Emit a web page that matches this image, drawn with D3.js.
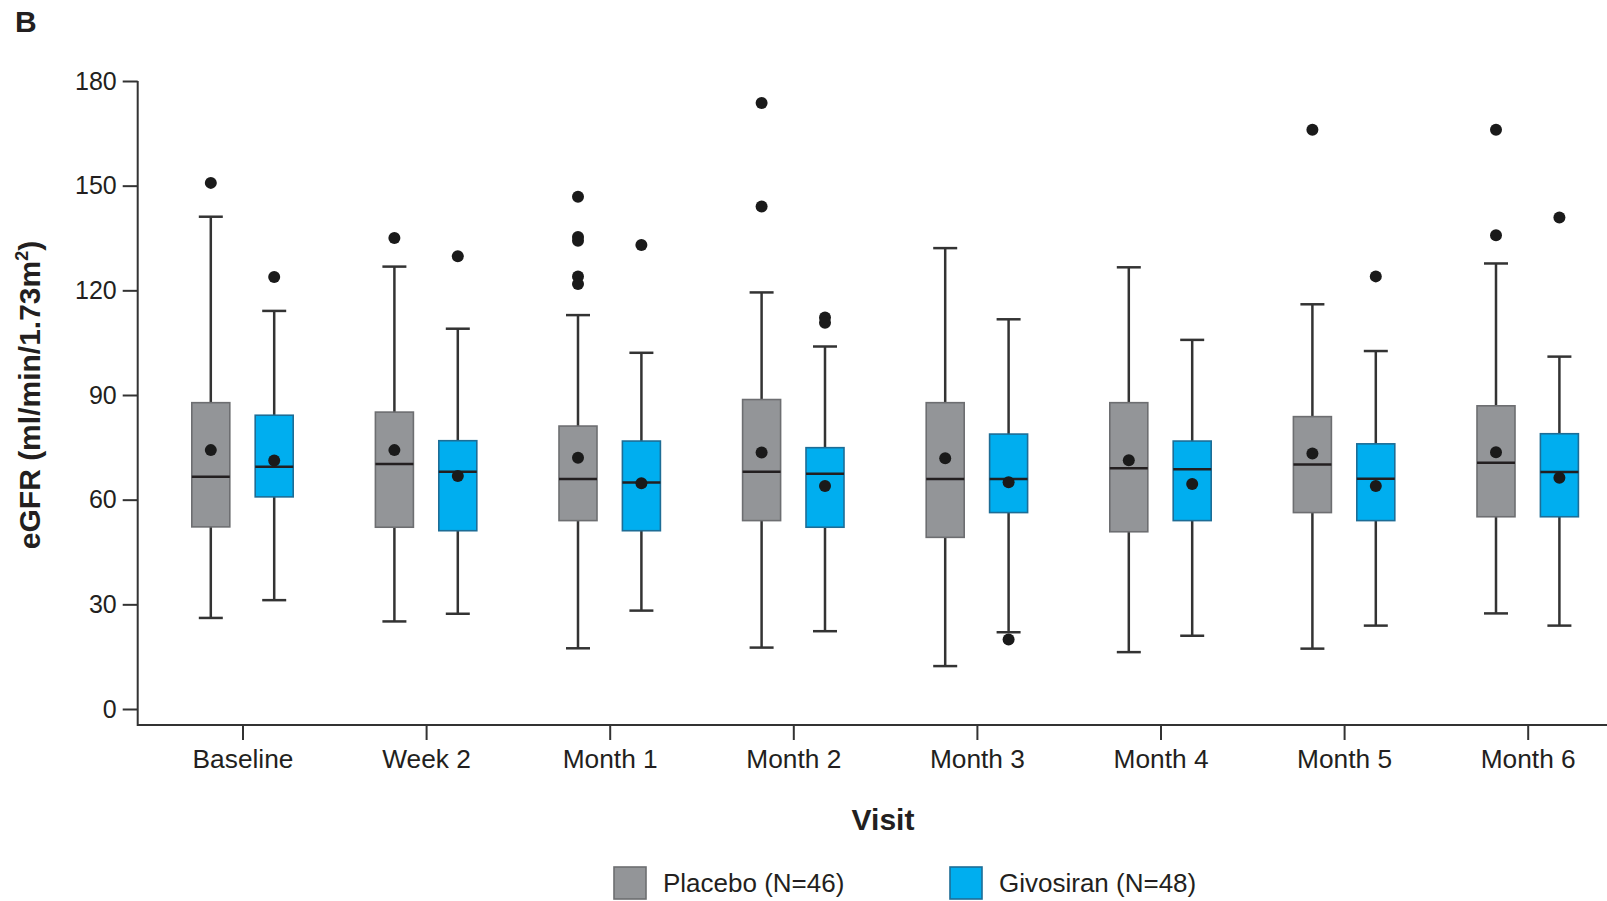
<!DOCTYPE html>
<html>
<head>
<meta charset="utf-8">
<script src="https://cdn.jsdelivr.net/npm/d3@7"></script>
<style>
    body { margin: 0; background: #ffffff; }
    text { font-family: "Liberation Sans", Arial, sans-serif; fill: #231f20; }
</style>
</head>
<body>
<div id="chart"></div>
<script>
"use strict";

// 数据
var categories = ["Baseline", "Week 2", "Month 1", "Month 2", "Month 3", "Month 4", "Month 5", "Month 6"];
var yTicks = [0, 30, 60, 90, 120, 150, 180];
var seriesNames = ["Placebo (N=46)", "Givosiran (N=48)"];

var placeboLow = [26.1, 25.1, 17.4, 17.6, 12.3, 16.3, 17.3, 27.4];
var placeboQ1 = [52.2, 52.1, 54.0, 54.0, 49.2, 50.8, 56.3, 55.1];
var placeboMedian = [66.6, 70.2, 65.9, 68.0, 65.9, 69.0, 70.1, 70.6];
var placeboQ3 = [87.8, 85.1, 81.1, 88.7, 87.8, 87.8, 83.8, 86.9];
var placeboHigh = [141.1, 126.8, 112.9, 119.4, 132.1, 126.6, 116.0, 127.7];
var placeboMean = [74.2, 74.2, 72.0, 73.5, 71.9, 71.3, 73.2, 73.6];
var placeboOutliers = [[150.8], [135.0], [146.8, 135.3, 134.2, 124.0, 121.8], [173.7, 144.0], [], [], [166.0], [166.0, 135.8]];

var givLow = [31.2, 27.3, 28.2, 22.3, 22.0, 21.0, 23.9, 23.9];
var givQ1 = [60.8, 51.1, 51.1, 52.1, 56.3, 54.0, 54.0, 55.1];
var givMedian = [69.4, 68.0, 64.9, 67.4, 65.9, 68.7, 66.0, 67.9];
var givQ3 = [84.2, 76.9, 76.8, 74.9, 78.8, 76.8, 76.0, 78.9];
var givHigh = [114.1, 109.0, 102.1, 103.9, 111.7, 105.8, 102.6, 101.0];
var givMean = [71.2, 66.8, 64.7, 63.9, 65.0, 64.5, 63.9, 66.3];
var givOutliers = [[123.8], [129.8], [133.0], [112.2, 110.7], [19.9], [], [124.0], [140.9]];

var width = 1607, height = 901;
var axisLeftX = 137.7, axisBottomY = 725;
var boxWidth = 38, capWidth = 24, offset = 31.7;

var colors = {
    placebo: { fill: "#939598", stroke: "#6d6e71" },
    giv: { fill: "#00aeef", stroke: "#1d6d96" }
};

// 组装箱线数据
function buildSeries(key, low, q1, med, q3, high, mean, outliers, dx) {
    return categories.map(function (c, i) {
        return {
            key: key, cat: c, dx: dx,
            low: low[i], q1: q1[i], median: med[i], q3: q3[i], high: high[i],
            mean: mean[i], outliers: outliers[i]
        };
    });
}
var boxes = buildSeries("placebo", placeboLow, placeboQ1, placeboMedian, placeboQ3, placeboHigh, placeboMean, placeboOutliers, -offset)
    .concat(buildSeries("giv", givLow, givQ1, givMedian, givQ3, givHigh, givMean, givOutliers, offset));

var svg = d3.select("#chart").append("svg")
    .attr("width", width)
    .attr("height", height);

// 比例尺
var x = d3.scalePoint().domain(categories).range([242.5, 1527.7]);
var y = d3.scaleLinear().domain([0, 180]).range([709, 81]);

// 坐标轴
var gy = svg.append("g")
    .attr("transform", "translate(" + axisLeftX + ",0)")
    .call(d3.axisLeft(y).tickValues(yTicks).tickSize(15).tickPadding(6));
gy.select(".domain").remove();
gy.selectAll("text").attr("font-size", 25).attr("fill", "#231f20")
    .attr("font-family", "'Liberation Sans', Arial, sans-serif");

var gx = svg.append("g")
    .attr("transform", "translate(0," + axisBottomY + ")")
    .call(d3.axisBottom(x).tickSize(15).tickPadding(9));
gx.select(".domain").remove();
gx.selectAll("text").attr("font-size", 26.3).attr("fill", "#231f20")
    .attr("font-family", "'Liberation Sans', Arial, sans-serif");

svg.selectAll(".tick line").attr("stroke", "#333").attr("stroke-width", 2);

svg.append("path")
    .attr("d", "M" + axisLeftX + "," + y(180) + "V" + axisBottomY + "H" + width)
    .attr("fill", "none")
    .attr("stroke", "#333")
    .attr("stroke-width", 2);

// 箱线图
var g = svg.selectAll(".box")
    .data(boxes)
    .enter()
    .append("g")
    .attr("class", "box")
    .attr("transform", function (d) { return "translate(" + (x(d.cat) + d.dx) + ",0)"; });

g.append("line")
    .attr("x1", 0).attr("x2", 0)
    .attr("y1", function (d) { return y(d.high); })
    .attr("y2", function (d) { return y(d.low); })
    .attr("stroke", "#333").attr("stroke-width", 2.5);

g.selectAll(".cap")
    .data(function (d) { return [d.low, d.high]; })
    .enter()
    .append("line")
    .attr("class", "cap")
    .attr("x1", -capWidth / 2).attr("x2", capWidth / 2)
    .attr("y1", function (v) { return y(v); })
    .attr("y2", function (v) { return y(v); })
    .attr("stroke", "#333").attr("stroke-width", 2.5);

g.append("rect")
    .attr("x", -boxWidth / 2)
    .attr("width", boxWidth)
    .attr("y", function (d) { return y(d.q3); })
    .attr("height", function (d) { return y(d.q1) - y(d.q3); })
    .attr("fill", function (d) { return colors[d.key].fill; })
    .attr("stroke", function (d) { return colors[d.key].stroke; })
    .attr("stroke-width", 1.6);

g.append("line")
    .attr("x1", -boxWidth / 2).attr("x2", boxWidth / 2)
    .attr("y1", function (d) { return y(d.median); })
    .attr("y2", function (d) { return y(d.median); })
    .attr("stroke", "#231f20").attr("stroke-width", 2.5);

g.append("circle")
    .attr("cx", 0)
    .attr("cy", function (d) { return y(d.mean); })
    .attr("r", 6)
    .attr("fill", "#1a1a1a");

g.selectAll(".outlier")
    .data(function (d) { return d.outliers; })
    .enter()
    .append("circle")
    .attr("class", "outlier")
    .attr("cx", 0)
    .attr("cy", function (v) { return y(v); })
    .attr("r", 6)
    .attr("fill", "#1a1a1a");

// 标题
svg.append("text")
    .attr("x", 15).attr("y", 32)
    .attr("font-size", 30).attr("font-weight", "bold")
    .text("B");

svg.append("text")
    .attr("x", 883).attr("y", 830)
    .attr("text-anchor", "middle")
    .attr("font-size", 30).attr("font-weight", "bold")
    .text("Visit");

var yTitle = svg.append("text")
    .attr("transform", "translate(40,395) rotate(-90)")
    .attr("text-anchor", "middle")
    .attr("font-size", 30).attr("font-weight", "bold");
yTitle.append("tspan").text("eGFR (ml/min/1.73m");
yTitle.append("tspan").attr("font-size", 18).attr("dy", -12).text("2");
yTitle.append("tspan").attr("dy", 12).text(")");

// 图例
var legendX = [614, 950];
var legend = svg.selectAll(".legend")
    .data(seriesNames)
    .enter()
    .append("g")
    .attr("class", "legend")
    .attr("transform", function (d, i) { return "translate(" + legendX[i] + ",867)"; });

legend.append("rect")
    .attr("width", 32).attr("height", 32)
    .attr("fill", function (d, i) { return i === 0 ? colors.placebo.fill : colors.giv.fill; })
    .attr("stroke", function (d, i) { return i === 0 ? colors.placebo.stroke : colors.giv.stroke; })
    .attr("stroke-width", 1.6);

legend.append("text")
    .attr("x", 49).attr("y", 25)
    .attr("font-size", 26)
    .text(function (d) { return d; });
</script>
</body>
</html>
